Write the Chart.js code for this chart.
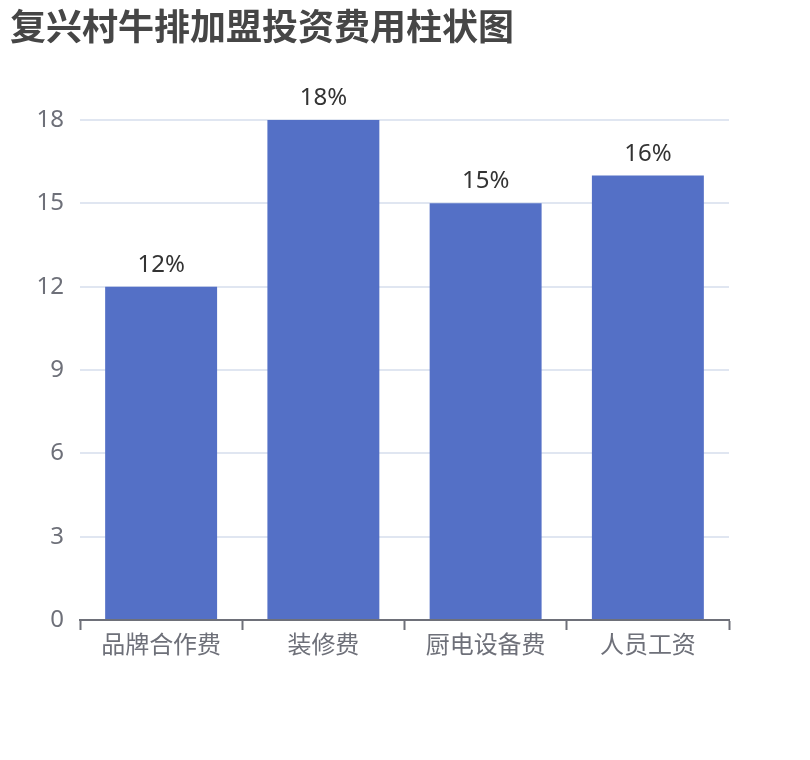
<!DOCTYPE html>
<html>
<head>
<meta charset="utf-8">
<script src="https://cdn.jsdelivr.net/npm/chart.js@4.4.1/dist/chart.umd.min.js"></script>
<style>
  html, body { margin: 0; padding: 0; background: #ffffff; }
  #wrap { width: 810px; height: 760px; }
</style>
</head>
<body>
<div id="wrap"><canvas id="c" width="810" height="760"></canvas></div>
<script>
const titleText = '复兴村牛排加盟投资费用柱状图';
const categories = ['品牌合作费', '装修费', '厨电设备费', '人员工资'];
const values = [12, 18, 15, 16];
const valueLabels = ['12%', '18%', '15%', '16%'];
const yTicks = [0, 3, 6, 9, 12, 15, 18];

const FONT = "'Noto Sans', 'Noto Sans CJK SC', sans-serif";

const barLabelPlugin = {
  id: 'barLabels',
  afterDatasetsDraw(chart) {
    const ctx = chart.ctx;
    const meta = chart.getDatasetMeta(0);
    ctx.save();
    ctx.font = '24px ' + FONT;
    ctx.fillStyle = '#333333';
    ctx.textAlign = 'center';
    ctx.textBaseline = 'alphabetic';
    meta.data.forEach((bar, i) => {
      ctx.fillText(valueLabels[i], bar.x, bar.y - 15);
    });
    ctx.restore();
  }
};

new Chart(document.getElementById('c'), {
  type: 'bar',
  data: {
    labels: categories,
    datasets: [{
      data: values,
      backgroundColor: '#5470C6',
      borderWidth: 0,
      barPercentage: 0.69,
      categoryPercentage: 1.0
    }]
  },
  plugins: [barLabelPlugin],
  options: {
    responsive: false,
    animation: false,
    devicePixelRatio: 1,
    layout: { padding: { left: 10, right: 81, top: 0, bottom: 90 } },
    plugins: {
      legend: { display: false },
      tooltip: { enabled: false },
      title: {
        display: true,
        text: titleText,
        align: 'start',
        color: '#464646',
        font: { family: "'Noto Sans CJK SC', sans-serif", size: 36, weight: 'bold', lineHeight: 1.2 },
        padding: { top: 4.4, bottom: 72.4 }
      }
    },
    scales: {
      x: {
        afterFit(scale) { scale.height = 50; },
        grid: {
          offset: true,
          drawOnChartArea: false,
          drawTicks: true,
          tickLength: 10,
          tickWidth: 2,
          tickColor: '#6E7079'
        },
        border: { display: true, color: '#6E7079', width: 2 },
        ticks: {
          color: '#6E7079',
          padding: 2,
          maxRotation: 0,
          autoSkip: false,
          font: { family: FONT, size: 24 }
        }
      },
      y: {
        min: 0,
        max: 18,
        afterFit(scale) { scale.width = 70; },
        afterBuildTicks(scale) { scale.ticks = yTicks.map(v => ({ value: v })); },
        grid: {
          color: '#E0E6F1',
          lineWidth: 2,
          drawTicks: false
        },
        border: { display: false },
        ticks: {
          color: '#6E7079',
          padding: 16,
          font: { family: FONT, size: 24 }
        }
      }
    }
  }
});
</script>
</body>
</html>
